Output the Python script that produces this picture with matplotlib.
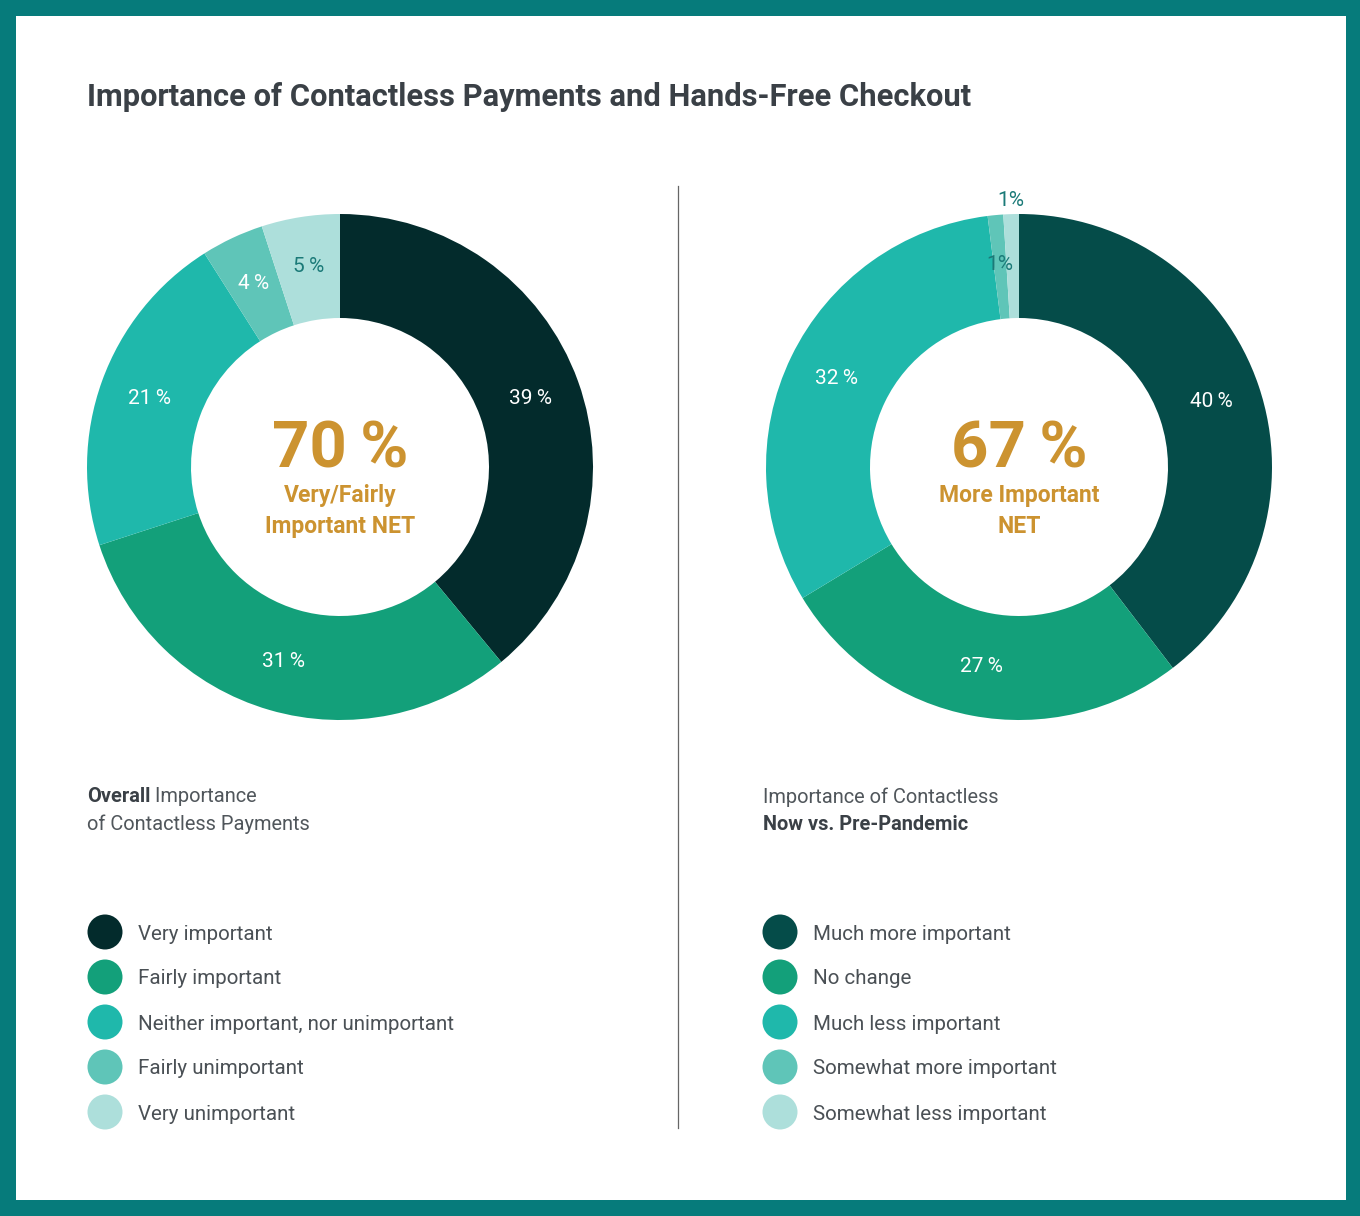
import matplotlib.pyplot as plt
from matplotlib.patches import Rectangle, Circle
import numpy as np

plt.rcParams['font.family'] = ['Roboto', 'DejaVu Sans']

# datos
title = "Importance of Contactless Payments and Hands-Free Checkout"

left_labels = ["Very important", "Fairly important", "Neither important, nor unimportant",
               "Fairly unimportant", "Very unimportant"]
left_values = [39, 31, 21, 4, 5]
left_colors = ["#032b2c", "#13a07a", "#1fb8ab", "#5fc5b8", "#addfdb"]
left_net = "70\u2009%"
left_net_text = "Very/Fairly\nImportant NET"

right_labels = ["Much more important", "No change", "Much less important",
                "Somewhat more important", "Somewhat less important"]
right_values = [40, 27, 32, 1, 1]
right_colors = ["#054c49", "#13a07a", "#1fb8ab", "#5fc5b8", "#addfdb"]
right_net = "67\u2009%"
right_net_text = "More Important\nNET"

W, H = 1360, 1216
BORDER = "#067b7b"
GOLD = "#cc9330"
DARK = "#3a4046"
GREY = "#50565b"
TEAL_TXT = "#1b7a78"


def Y(y):
    # pasamos de pixeles (arriba->abajo) a coordenadas del eje
    return H - y


fig = plt.figure(figsize=(W / 100, H / 100), dpi=100)
fig.patch.set_facecolor(BORDER)
ax = fig.add_axes([0, 0, 1, 1])

ax.add_patch(Rectangle((16, Y(1200)), 1330, 1184, facecolor="white", edgecolor="none", zorder=0))

ax.text(87, Y(97), title, fontsize=22.2, fontweight="bold", color=DARK, va="center", ha="left")

# linea divisoria
ax.plot([678, 678], [Y(186), Y(1128)], color="#666666", linewidth=0.9)


def donut(cx, cy, values, colors, text_colors, outside):
    wedges, _ = ax.pie(values, colors=colors, startangle=90, counterclock=False,
                       center=(cx, Y(cy)), radius=253,
                       wedgeprops=dict(width=104, edgecolor="none"))
    for i, (w, v) in enumerate(zip(wedges, values)):
        ang = np.deg2rad((w.theta1 + w.theta2) / 2)
        r = 267 if i in outside else 203
        lab = f"{v}%" if v < 2 else f"{v}\u2009%"
        ax.text(cx + r * np.cos(ang), Y(cy) + r * np.sin(ang), lab,
                color=text_colors[i], fontsize=15, ha="center", va="center")


donut(340, 467, left_values, left_colors, ["white", "white", "white", "white", TEAL_TXT], [])
donut(1019, 467, right_values, right_colors, ["white", "white", "white", TEAL_TXT, TEAL_TXT], [4])

for cx, big, small in [(340, left_net, left_net_text), (1019, right_net, right_net_text)]:
    ax.text(cx, Y(450), big, fontsize=47, fontweight="bold", color=GOLD, ha="center", va="center")
    ax.text(cx, Y(511), small, fontsize=16.5, fontweight="bold", color=GOLD, ha="center",
            va="center", linespacing=1.4)

# subtitulos
t = ax.text(87, Y(797), "Overall", fontsize=14.4, fontweight="bold", color=DARK, va="center")
ax.annotate(" Importance", xy=(1, 0.5), xycoords=t, fontsize=14.4, color=GREY, va="center")
ax.text(87, Y(824), "of Contactless Payments", fontsize=14.4, color=GREY, va="center")
ax.text(763, Y(797), "Importance of Contactless", fontsize=14.4, color=GREY, va="center")
ax.text(763, Y(824), "Now vs. Pre-Pandemic", fontsize=14.4, fontweight="bold", color=DARK, va="center")

# leyendas
legend_y = [932, 977, 1022, 1067, 1112]
for x0, labels, colors in [(105, left_labels, left_colors), (780, right_labels, right_colors)]:
    for y, lab, c in zip(legend_y, labels, colors):
        ax.add_patch(Circle((x0, Y(y)), 17.5, facecolor=c, edgecolor="none"))
        ax.text(x0 + 33, Y(y + 2), lab, fontsize=14.8, color="#4a5055", va="center")

ax.set_xlim(0, W)
ax.set_ylim(0, H)
ax.set_aspect("auto")
ax.axis("off")

fig.savefig("out.png", dpi=100, facecolor=BORDER)
